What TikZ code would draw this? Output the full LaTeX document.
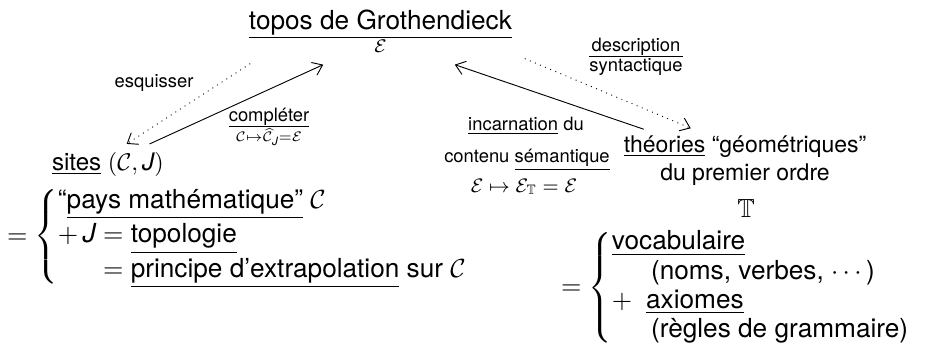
\documentclass[tikz,border=0pt]{standalone}
\usepackage{fix-cm}
\usepackage{amsmath,amssymb}
\usepackage{fontspec}
\setmainfont{TeX Gyre Heros}
\usetikzlibrary{arrows.meta}

\newcommand{\Jt}{\text{\itshape J}}

\tikzset{
  every node/.style={inner sep=0pt, outer sep=0pt},
  bigtxt/.style={font=\fontsize{11.4}{13.7}\selectfont},
  txt/.style={font=\fontsize{10}{12}\selectfont},
  smalltxt/.style={font=\fontsize{8}{9.6}\selectfont},
  fleche/.style={-{Straight Barb[length=4pt,width=6pt]}, thin},
  pointille/.style={fleche, dotted},
}

\begin{document}
\begin{tikzpicture}[x=0.435pt, y=-0.435pt]
\useasboundingbox (0,0) rectangle (934,352);
% le topos en haut
\node[bigtxt, anchor=base] (topos) at (380.5,43.6) {$\frac{\mbox{topos de Grothendieck}}{\mathcal{E}}$};
% les sites a gauche
\node[font=\fontsize{10.5}{12.6}\selectfont, anchor=base west] (sites) at (52,170) {\underline{sites} $(\mathcal{C},\Jt)$};
\node[font=\fontsize{11.4}{12.2}\selectfont, anchor=west] (pays) at (7,236.5) {$=\begin{cases}
  \mbox{“\underline{pays mathématique”}}\ \mathcal{C}\\
  +\,\Jt = \mbox{\underline{topologie}}\\
  \hphantom{+\,\Jt} = \mbox{\underline{principe d'extrapolation} sur}\ \mathcal{C}
\end{cases}$};
% les theories a droite
\node[txt, anchor=base] (theories) at (745,152) {\underline{théories} “géométriques”};
\node[txt, anchor=base] (ordre) at (745,180) {du premier ordre};
\node[bigtxt, anchor=base] (T) at (746,217) {$\mathbb{T}$};
\node[font=\fontsize{11.4}{10.6}\selectfont, anchor=west] (vocab) at (561,288) {$=\begin{cases}
  \mbox{\underline{vocabulaire}}\\
  \hspace{17pt}\mbox{(noms, verbes, $\cdots$)}\\
  +\hspace{6pt}\mbox{\underline{axiomes}}\\
  \hspace{17pt}\mbox{(règles de grammaire)}
\end{cases}$};
% etiquettes des fleches
\node[smalltxt, anchor=base] (esq) at (154,87) {esquisser};
\node[smalltxt, anchor=base] (compl) at (269,131.5) {$\frac{\mbox{compléter}}{\mathcal{C}\mapsto\widehat{\mathcal{C}}_{\Jt}=\mathcal{E}}$};
\node[smalltxt, anchor=base] (descr) at (636,61.5) {$\frac{\mbox{description}}{\mbox{syntactique}}$};
\node[smalltxt, anchor=base] (incarn) at (526,130) {\underline{incarnation} du};
\node[smalltxt, anchor=base] (contenu) at (527,162) {contenu \underline{sémantique}};
\node[font=\fontsize{8.5}{10}\selectfont, anchor=base] (formule) at (524,192) {$\mathcal{E}\mapsto\mathcal{E}_{\mathbb{T}}=\mathcal{E}$};
% les fleches
\draw[pointille] ([shift={(4,11)}]topos.south west) -- ([shift={(-37,-8)}]sites.north east);
\draw[fleche] ([shift={(-14,-8)}]sites.north east) -- ([shift={(77,12)}]topos.south west);
\draw[fleche] ([shift={(20,-6)}]theories.north west) -- ([shift={(-60,12)}]topos.south east);
\draw[pointille] ([shift={(10,6)}]topos.south east) -- ([shift={(67,-7)}]theories.north west);
\end{tikzpicture}
\end{document}
